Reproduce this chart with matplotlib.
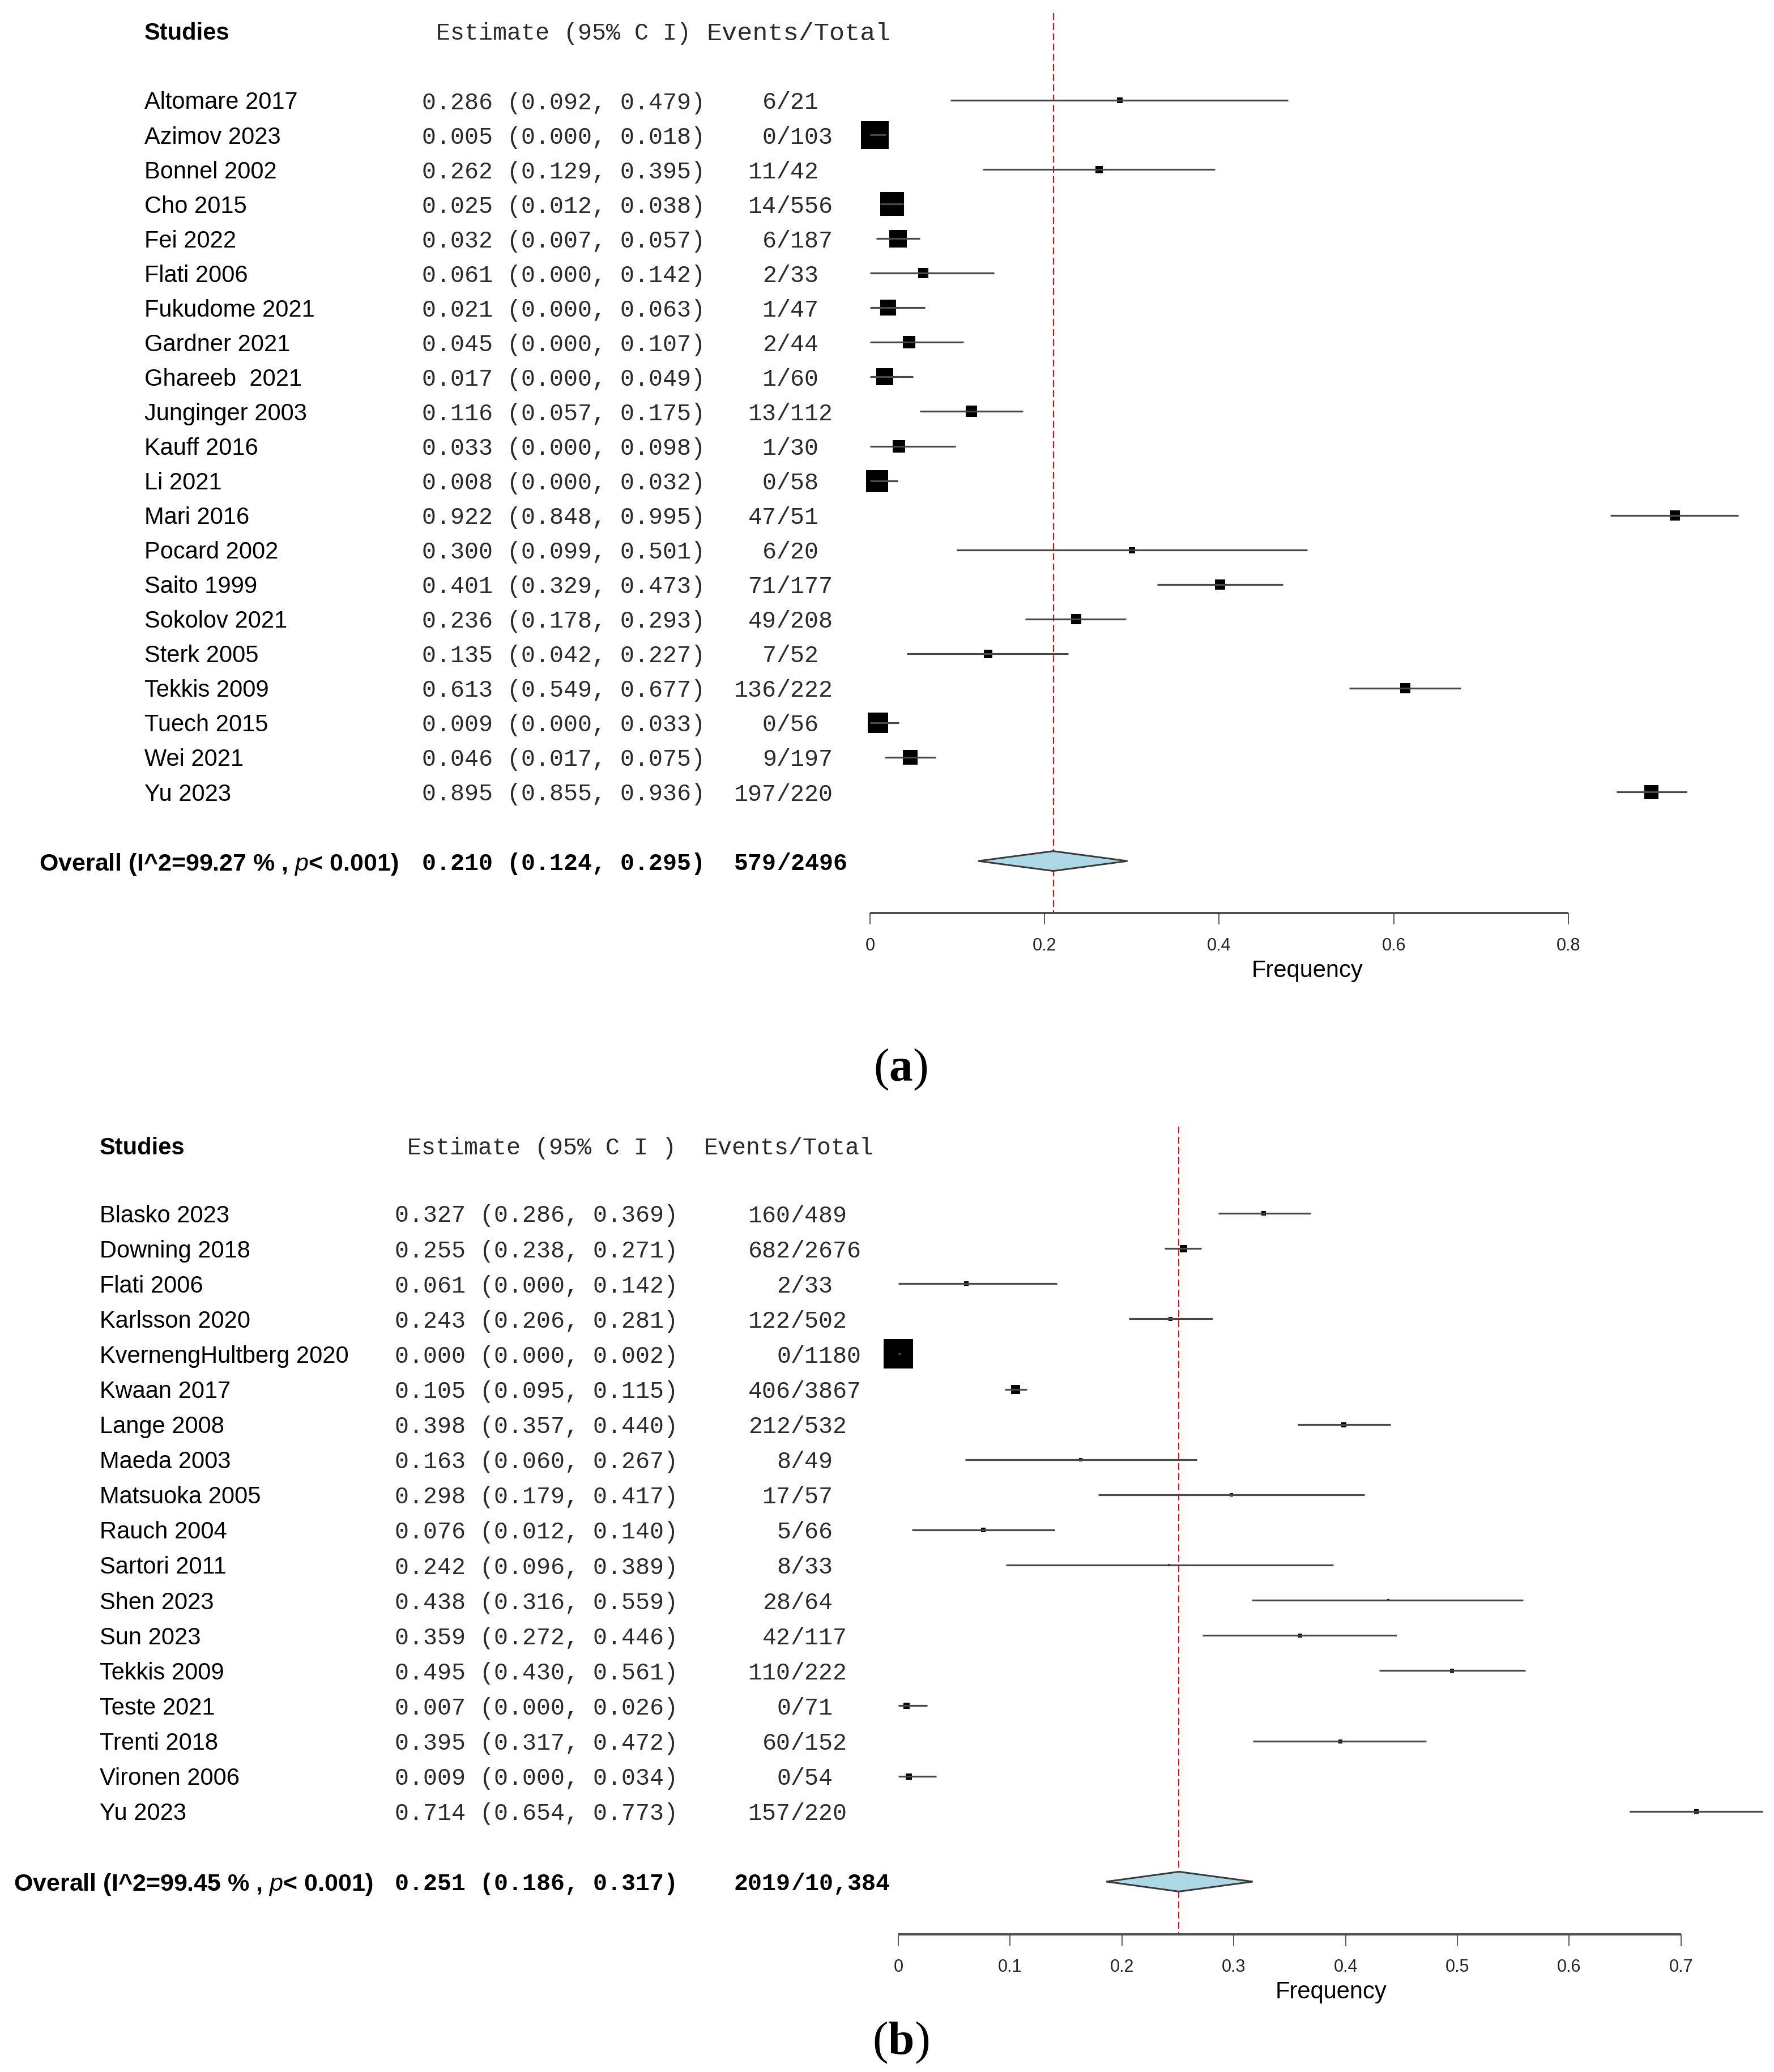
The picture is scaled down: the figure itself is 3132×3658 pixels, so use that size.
import numpy as np
import matplotlib
matplotlib.use("Agg")
import matplotlib.pyplot as plt
from matplotlib.patches import Polygon
from matplotlib.transforms import blended_transform_factory

plt.rcParams['mathtext.fontset'] = 'custom'
plt.rcParams['mathtext.it'] = 'Liberation Sans:italic'
plt.rcParams['mathtext.bf'] = 'Liberation Serif:bold'
plt.rcParams['mathtext.rm'] = 'Liberation Serif'

# ---------------- panel (a) data ----------------
names_a = ["Altomare 2017", "Azimov 2023", "Bonnel 2002", "Cho 2015", "Fei 2022",
           "Flati 2006", "Fukudome 2021", "Gardner 2021", "Ghareeb  2021",
           "Junginger 2003", "Kauff 2016", "Li 2021", "Mari 2016", "Pocard 2002",
           "Saito 1999", "Sokolov 2021", "Sterk 2005", "Tekkis 2009", "Tuech 2015",
           "Wei 2021", "Yu 2023"]
est_a = [0.286, 0.005, 0.262, 0.025, 0.032, 0.061, 0.021, 0.045, 0.017, 0.116, 0.033,
         0.008, 0.922, 0.300, 0.401, 0.236, 0.135, 0.613, 0.009, 0.046, 0.895]
lo_a = [0.092, 0.000, 0.129, 0.012, 0.007, 0.000, 0.000, 0.000, 0.000, 0.057, 0.000,
        0.000, 0.848, 0.099, 0.329, 0.178, 0.042, 0.549, 0.000, 0.017, 0.855]
hi_a = [0.479, 0.018, 0.395, 0.038, 0.057, 0.142, 0.063, 0.107, 0.049, 0.175, 0.098,
        0.032, 0.995, 0.501, 0.473, 0.293, 0.227, 0.677, 0.033, 0.075, 0.936]
events_a = [6, 0, 11, 14, 6, 2, 1, 2, 1, 13, 1, 0, 47, 6, 71, 49, 7, 136, 0, 9, 197]
total_a = [21, 103, 42, 556, 187, 33, 47, 44, 60, 112, 30, 58, 51, 20, 177, 208, 52,
           222, 56, 197, 220]
weight_a = [10, 49, 13, 42, 31, 18, 28, 22, 30, 20, 22, 39, 18, 11, 18, 18, 15, 18,
            36, 27, 25]  # box side
overall_a = [0.210, 0.124, 0.295]
overall_n_a = [579, 2496]
i2_a = 99.27
ticks_a = [0, 0.2, 0.4, 0.6, 0.8]

# ---------------- panel (b) data ----------------
names_b = ["Blasko 2023", "Downing 2018", "Flati 2006", "Karlsson 2020",
           "KvernengHultberg 2020", "Kwaan 2017", "Lange 2008", "Maeda 2003",
           "Matsuoka 2005", "Rauch 2004", "Sartori 2011", "Shen 2023", "Sun 2023",
           "Tekkis 2009", "Teste 2021", "Trenti 2018", "Vironen 2006", "Yu 2023"]
est_b = [0.327, 0.255, 0.061, 0.243, 0.000, 0.105, 0.398, 0.163, 0.298, 0.076, 0.242,
         0.438, 0.359, 0.495, 0.007, 0.395, 0.009, 0.714]
lo_b = [0.286, 0.238, 0.000, 0.206, 0.000, 0.095, 0.357, 0.060, 0.179, 0.012, 0.096,
        0.316, 0.272, 0.430, 0.000, 0.317, 0.000, 0.654]
hi_b = [0.369, 0.271, 0.142, 0.281, 0.002, 0.115, 0.440, 0.267, 0.417, 0.140, 0.389,
        0.559, 0.446, 0.561, 0.026, 0.472, 0.034, 0.773]
events_b = [160, 682, 2, 122, 0, 406, 212, 8, 17, 5, 8, 28, 42, 110, 0, 60, 0, 157]
total_b = [489, 2676, 33, 502, 1180, 3867, 532, 49, 57, 66, 33, 64, 117, 222, 71, 152,
           54, 220]
weight_b = [8, 13, 8, 7, 52, 16, 9, 6, 6, 8, 5, 5, 7, 7, 11, 7, 11, 8]
overall_b = [0.251, 0.186, 0.317]
overall_n_b = [2019, 10384]
i2_b = 99.45
ticks_b = [0, 0.1, 0.2, 0.3, 0.4, 0.5, 0.6, 0.7]

W, H = 3132, 3658
DPI = 100
PX = 72.0 / DPI  # points per pixel

fig = plt.figure(figsize=(W / DPI, H / DPI), dpi=DPI)
fig.patch.set_facecolor('white')

SANS = 'Liberation Sans'
MONO = 'Liberation Mono'
FS = 30
FS_MONO = 30
TXT_GRAY = '#2a2a2a'
VA = 'center_baseline'


def fmt_n(n):
    return f"{n:,}" if n >= 10000 else str(n)


def forest(names, est, lo, hi, events, total, weight, overall, overall_n, i2, ticks,
           lay):
    ax = fig.add_axes([0, 0, 1, 1])
    ax.set_facecolor('none')
    ax.axis('off')
    # map pixel layout onto data units
    x0, xs = lay['x0'], lay['xscale']
    y0, ys = lay['y0'], lay['yscale']
    ax.set_xlim(-x0 / xs, (W - x0) / xs)
    ax.set_ylim((H - y0) / ys, -y0 / ys)
    tr = blended_transform_factory(fig.transFigure, ax.transData)

    n = len(names)
    rows = np.arange(n)
    r_over = n + 1
    r_axis = r_over + 1.5

    # header
    hy = lay['header_row']
    ax.text(lay['name_x'] / W, hy, "Studies", transform=tr, fontfamily=SANS,
            fontweight='bold', fontsize=FS, va=VA, ha='left')
    ax.text(lay['est_head_x'] / W, hy, lay['est_head'], transform=tr, fontfamily=MONO,
            fontsize=FS_MONO, va=VA, ha='left', color=TXT_GRAY)
    ax.text(lay['ev_head_x'] / W, hy, "Events/Total", transform=tr, fontfamily=MONO,
            fontsize=lay['ev_head_fs'], va=VA, ha='left', color=TXT_GRAY)

    # study rows
    for i in range(n):
        ax.text(lay['name_x'] / W, rows[i], names[i], transform=tr, fontfamily=SANS,
                fontsize=FS, va=VA, ha='left')
        ax.text(lay['est_x'] / W, rows[i],
                f"{est[i]:.3f} ({lo[i]:.3f}, {hi[i]:.3f})", transform=tr,
                fontfamily=MONO, fontsize=FS_MONO, va=VA, ha='left',
                color=TXT_GRAY)
        ax.text(lay['slash_x'] / W, rows[i], str(events[i]), transform=tr,
                fontfamily=MONO, fontsize=FS_MONO, va=VA, ha='right',
                color=TXT_GRAY)
        ax.text(lay['slash_x'] / W, rows[i], "/" + fmt_n(total[i]), transform=tr,
                fontfamily=MONO, fontsize=FS_MONO, va=VA, ha='left',
                color=TXT_GRAY)

    # boxes and CI lines
    for i in range(n):
        ax.plot(est[i], rows[i], marker='s', color='black',
                markersize=weight[i] * PX, markeredgewidth=0, zorder=3)
    ax.hlines(rows, lo, hi, color='#484848', lw=3.2 * PX, zorder=4)

    # overall row
    ax.text(lay['over_x'] / W, r_over,
            f"Overall (I^2={i2:.2f} % , $p$< 0.001)", transform=tr, fontfamily=SANS,
            fontweight='bold', fontsize=31, va=VA, ha='left')
    ax.text(lay['est_x'] / W, r_over,
            f"{overall[0]:.3f} ({overall[1]:.3f}, {overall[2]:.3f})", transform=tr,
            fontfamily=MONO, fontweight='bold', fontsize=FS_MONO, va=VA,
            ha='left')
    ax.text(lay['slash_x'] / W, r_over, str(overall_n[0]), transform=tr,
            fontfamily=MONO, fontweight='bold', fontsize=FS_MONO, va=VA,
            ha='right')
    ax.text(lay['slash_x'] / W, r_over, "/" + fmt_n(overall_n[1]), transform=tr,
            fontfamily=MONO, fontweight='bold', fontsize=FS_MONO, va=VA,
            ha='left')
    dh = 17.5 / ys
    diamond = Polygon([(overall[1], r_over), (overall[0], r_over - dh),
                       (overall[2], r_over), (overall[0], r_over + dh)],
                      closed=True, facecolor='#ADD8E6', edgecolor='#3a3a3a',
                      lw=3 * PX, zorder=5)
    ax.add_patch(diamond)

    # reference line at pooled estimate
    ax.plot([overall[0], overall[0]], [lay['red_top'], r_axis], color='red',
            lw=2 * PX, dashes=(6, 3), zorder=2)

    # x axis
    ax.plot([ticks[0], ticks[-1]], [r_axis, r_axis], color='#505050', lw=4 * PX,
            solid_capstyle='butt', zorder=3)
    tick_len = 20 / ys
    ax.vlines(ticks, r_axis, r_axis + tick_len, color='#303030', lw=1.6 * PX)
    for t in ticks:
        ax.text(t, r_axis + 58 / ys, f"{t:g}", fontfamily=SANS, fontsize=22,
                va='center', ha='center', color='#222222')
    ax.text(lay['freq_x'] / W, r_axis + 102 / ys, "Frequency", transform=tr,
            fontfamily=SANS, fontsize=30, va='center', ha='center')
    return ax


lay_a = dict(x0=1536, xscale=1541, y0=177, yscale=61.05, header_row=-2.0,
             name_x=255, est_x=745, est_head_x=770, ev_head_x=1247, slash_x=1371,
             over_x=69, red_top=-2.52, freq_x=2308, ev_head_fs=32.5,
             est_head="Estimate (95% C I)")
lay_b = dict(x0=1586, xscale=1974, y0=2142, yscale=62.1, header_row=-1.92,
             name_x=176, est_x=697, est_head_x=719, ev_head_x=1243, slash_x=1396,
             over_x=24, red_top=-2.46, freq_x=2350, ev_head_fs=30,
             est_head="Estimate (95% C I )")

forest(names_a, est_a, lo_a, hi_a, events_a, total_a, weight_a, overall_a,
       overall_n_a, i2_a, ticks_a, lay_a)
forest(names_b, est_b, lo_b, hi_b, events_b, total_b, weight_b, overall_b,
       overall_n_b, i2_b, ticks_b, lay_b)

fig.text(1590 / W, 1 - 1888 / H, r"($\mathbf{a}$)", fontfamily='Liberation Serif',
         fontsize=60, ha='center', va='center')
fig.text(1590 / W, 1 - 3606 / H, r"($\mathbf{b}$)", fontfamily='Liberation Serif',
         fontsize=60, ha='center', va='center')

fig.savefig("out.png", dpi=DPI, facecolor='white')
